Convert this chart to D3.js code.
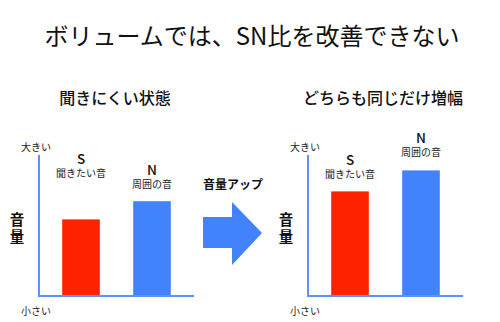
<!DOCTYPE html>
<html>
<head>
<meta charset="utf-8">
<script src="https://cdn.jsdelivr.net/npm/d3@7/dist/d3.min.js"></script>
<style>
  html, body { margin: 0; padding: 0; background: #fff; }
  svg { display: block; font-family: "Noto Sans CJK JP", "Noto Sans", sans-serif; }
</style>
</head>
<body>
<svg id="chart" width="500" height="322"></svg>
<script>
// Signal (S) and noise (N) levels, before and after raising the volume
const categories = ["S", "N"];
const categoryNames = ["聞きたい音", "周囲の音"];
const levelsBefore = [54, 67];
const levelsAfter = [74, 89];
const panelTitles = ["聞きにくい状態", "どちらも同じだけ増幅"];
const axisTop = "大きい";
const axisBottom = "小さい";
const axisName = "音量";
const arrowLabel = "音量アップ";
const title = "ボリュームでは、SN比を改善できない";

const colors = { S: "#ff2200", N: "#4282fa" };
const axisColor = "#5f92f7";

const svg = d3.select("#chart");

svg.append("text")
  .attr("x", 252).attr("y", 34)
  .attr("text-anchor", "middle").attr("dominant-baseline", "central")
  .attr("font-size", 24).attr("fill", "#111")
  .text(title);

const panels = [
  { x0: 39, titleX: 115, values: levelsBefore, rise: [61, 32] },
  { x0: 308, titleX: 383, values: levelsAfter, rise: [32, 33] }
];

const y = d3.scaleLinear().domain([0, 100]).range([295, 155]);

panels.forEach((p, i) => {
  const g = svg.append("g");
  const x = d3.scaleBand().domain(categories)
    .range([p.x0, p.x0 + 155]).paddingInner(0.47).paddingOuter(0.327);

  g.append("text")
    .attr("x", p.titleX).attr("y", 97)
    .attr("text-anchor", "middle").attr("dominant-baseline", "central")
    .attr("font-size", 16).attr("font-weight", 500).attr("fill", "#111")
    .text(panelTitles[i]);

  // bars
  g.selectAll("rect.bar").data(categories).join("rect")
    .attr("class", "bar")
    .attr("x", d => x(d))
    .attr("width", x.bandwidth())
    .attr("y", (d, j) => y(p.values[j]))
    .attr("height", (d, j) => y(0) - y(p.values[j]))
    .attr("fill", d => colors[d]);

  // axes
  g.append("line")
    .attr("x1", p.x0).attr("x2", p.x0)
    .attr("y1", y(100)).attr("y2", y(0) + 2)
    .attr("stroke", axisColor).attr("stroke-width", 2);
  g.append("line")
    .attr("x1", p.x0).attr("x2", p.x0 + 155)
    .attr("y1", y(0) + 1).attr("y2", y(0) + 1)
    .attr("stroke", axisColor).attr("stroke-width", 2);

  g.append("text")
    .attr("x", p.x0 - 3).attr("y", 146)
    .attr("text-anchor", "middle").attr("dominant-baseline", "central")
    .attr("font-size", 10).attr("fill", "#222")
    .text(axisTop);
  g.append("text")
    .attr("x", p.x0 - 3).attr("y", 310)
    .attr("text-anchor", "middle").attr("dominant-baseline", "central")
    .attr("font-size", 10).attr("fill", "#222")
    .text(axisBottom);

  // vertical axis name, one character per line
  const ax = g.append("text")
    .attr("x", p.x0 - 22).attr("y", 218)
    .attr("text-anchor", "middle").attr("dominant-baseline", "central")
    .attr("font-size", 14.5).attr("font-weight", 700).attr("fill", "#111");
  ax.selectAll("tspan").data(Array.from(axisName)).join("tspan")
    .attr("x", p.x0 - 22).attr("dy", (d, j) => j === 0 ? 0 : 17)
    .text(d => d);

  // category labels above each bar
  categories.forEach((c, j) => {
    const top = y(p.values[j]) - p.rise[j];
    const cx = x(c) + x.bandwidth() / 2;
    const t = g.append("text")
      .attr("x", cx).attr("y", top)
      .attr("text-anchor", "middle").attr("dominant-baseline", "central")
      .attr("fill", "#111");
    t.append("tspan")
      .attr("x", cx).attr("font-size", 13.5).attr("font-weight", 500)
      .text(c);
    t.append("tspan")
      .attr("x", cx).attr("dy", 13.5).attr("font-size", 10).attr("fill", "#222")
      .text(categoryNames[j]);
  });
});

// arrow between the panels
svg.append("text")
  .attr("x", 233).attr("y", 183)
  .attr("text-anchor", "middle").attr("dominant-baseline", "central")
  .attr("font-size", 12).attr("font-weight", 700).attr("fill", "#111")
  .text(arrowLabel);

svg.append("path")
  .attr("d", "M203,217 L232,217 L232,202 L262,233 L232,265 L232,248 L203,248 Z")
  .attr("fill", "#4282fa");
</script>
</body>
</html>
